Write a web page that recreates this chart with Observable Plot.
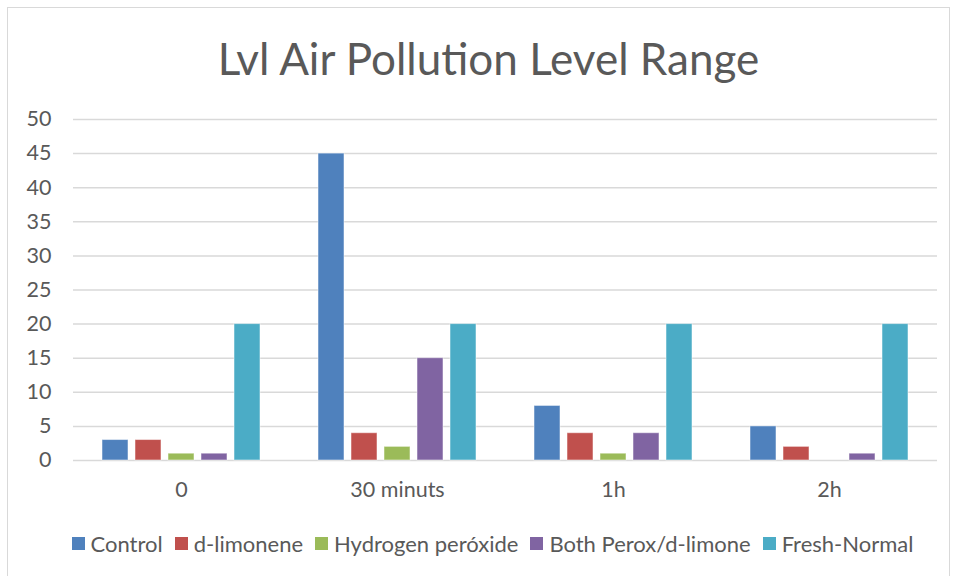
<!DOCTYPE html>
<html><head><meta charset="utf-8">
<script src="https://cdn.jsdelivr.net/npm/d3@7"></script>
<script src="https://cdn.jsdelivr.net/npm/@observablehq/plot@0.6"></script>
<style>
body{margin:0;background:#fff;font-family:Lato,"Open Sans",sans-serif;}
#wrap{position:relative;width:957px;height:576px;overflow:hidden;background:#fff}
#frame{position:absolute;left:7px;top:7px;width:943px;height:580px;border:1px solid #d9d9d9;box-sizing:border-box}
#title{position:absolute;left:0;width:977px;top:32px;text-align:center;font-size:44px;color:#595959;white-space:nowrap}
#chart{position:absolute;left:0;top:0}
#legend{position:absolute;top:530px;left:0;width:985px;display:flex;justify-content:center;align-items:center;font-size:22px;color:#595959;white-space:nowrap}
.item{display:flex;align-items:center;margin:0 6px}
.sw{width:13px;height:13px;margin-right:6px}
</style></head>
<body>
<div id="wrap">
  <div id="frame"></div>
  <div id="chart"></div>
  <div id="title">Lvl Air Pollution Level Range</div>
  <div id="legend"></div>
</div>
<script>
const categories = ["0", "30 minuts", "1h", "2h"];
const seriesNames = ["Control", "d-limonene", "Hydrogen peróxide", "Both Perox/d-limone", "Fresh-Normal"];
const control = [3, 45, 8, 5];
const dLimonene = [3, 4, 4, 2];
const hydrogenPeroxide = [1, 2, 1, 0];
const bothPeroxLimone = [1, 15, 4, 1];
const freshNormal = [20, 20, 20, 20];
const yTicks = [0, 5, 10, 15, 20, 25, 30, 35, 40, 45, 50];
const colors = ["#4F81BD", "#C0504D", "#9BBB59", "#8064A2", "#4BACC6"];

const seriesValues = [control, dLimonene, hydrogenPeroxide, bothPeroxLimone, freshNormal];
const data = [];
categories.forEach((c, i) => {
  seriesNames.forEach((s, j) => data.push({cat: c, series: s, value: seriesValues[j][i]}));
});

const chart = Plot.plot({
  width: 957,
  height: 520,
  marginTop: 119,
  marginBottom: 60,
  marginLeft: 72,
  marginRight: 19,
  style: {fontFamily: "Lato, 'Open Sans', sans-serif", fontSize: "21.5px", color: "#595959", background: "transparent"},
  fx: {domain: categories, padding: 0, label: null, tickSize: 0, tickPadding: 21},
  x: {domain: seriesNames, axis: null, paddingInner: 0.2, paddingOuter: 0.84},
  y: {domain: [0, 50], ticks: yTicks, tickSize: 0, tickPadding: 22, label: null},
  color: {domain: seriesNames, range: colors},
  marks: [
    Plot.ruleY(yTicks, {stroke: "#d9d9d9", strokeWidth: 1.5}),
    Plot.barY(data, {fx: "cat", x: "series", y: "value", fill: "series", stroke: "#ffffff", strokeOpacity: 0.5, strokeWidth: 1})
  ]
});
document.getElementById("chart").appendChild(chart);

const legend = document.getElementById("legend");
seriesNames.forEach((s, j) => {
  const it = document.createElement("div");
  it.className = "item";
  const sw = document.createElement("div");
  sw.className = "sw";
  sw.style.background = colors[j];
  const t = document.createElement("span");
  t.textContent = s;
  it.appendChild(sw); it.appendChild(t);
  legend.appendChild(it);
});
</script>
</body></html>
